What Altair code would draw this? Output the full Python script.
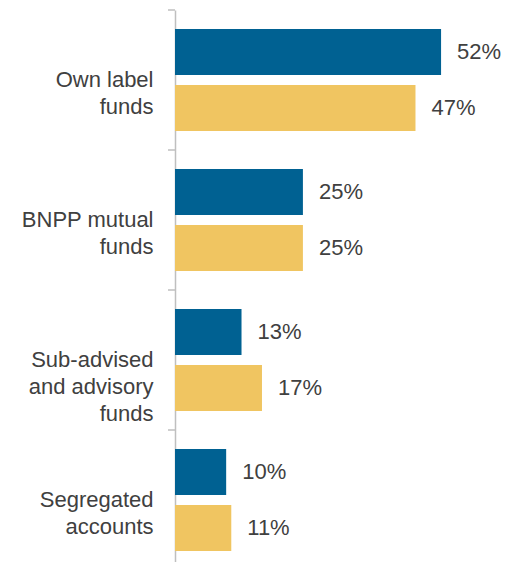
import altair as alt
import pandas as pd

categories = ["Own label|funds", "BNPP mutual|funds", "Sub-advised|and advisory|funds", "Segregated|accounts"]
series = ["Series 1", "Series 2"]
values_1 = [52, 25, 13, 10]
values_2 = [47, 25, 17, 11]

colors = ["#006192", "#F0C561"]
text_color = "#404040"
font = "Liberation Sans"

rows = []
for c, v1, v2 in zip(categories, values_1, values_2):
    rows.append({"category": c, "series": series[0], "value": v1})
    rows.append({"category": c, "series": series[1], "value": v2})
df = pd.DataFrame(rows)
cat_df = pd.DataFrame({"category": categories})

y_scale = alt.Scale(paddingInner=0, paddingOuter=0, range=[0, 560])

y_enc = alt.Y(
    "category:N",
    sort=categories,
    scale=y_scale,
    axis=alt.Axis(
        title=None,
        ticks=False,
        tickSize=0,
        domainColor="#BFBFBF",
        domainWidth=1.5,
        labelFontSize=22,
        labelFont=font,
        labelColor=text_color,
        labelPadding=22,
        labelLineHeight=27,
        labelLimit=250,
        labelExpr="split(datum.label, '|')",
    ),
)
yoff_enc = alt.YOffset(
    "series:N",
    sort=series,
    scale=alt.Scale(paddingInner=0.1786, paddingOuter=0.339),
)
x_enc = alt.X("value:Q", scale=alt.Scale(domain=[0, 60]), axis=None)

base = alt.Chart(df).encode(y=y_enc, yOffset=yoff_enc, x=x_enc)

bars = base.mark_bar().encode(
    color=alt.Color("series:N", scale=alt.Scale(domain=series, range=colors), legend=None)
)

labels = base.transform_calculate(lbl="datum.value + '%'").mark_text(
    align="left", baseline="middle", dx=16, fontSize=22, font=font, color=text_color
).encode(text="lbl:N")

ticks = alt.Chart(cat_df).mark_rule(color="#BFBFBF", strokeWidth=1.5).encode(
    y=alt.Y("category:N", sort=categories, scale=y_scale, bandPosition=0),
    x=alt.value(-7),
    x2=alt.value(0),
)

chart = (
    alt.layer(bars, labels, ticks)
    .properties(
        width=307,
        height=552,
        autosize=alt.AutoSizeParams(type="none"),
        padding={"left": 167, "top": 2, "right": 28, "bottom": 0},
    )
    .configure_view(stroke=None)
)

chart.save("out.html", embed_options={"renderer": "svg", "actions": False})
